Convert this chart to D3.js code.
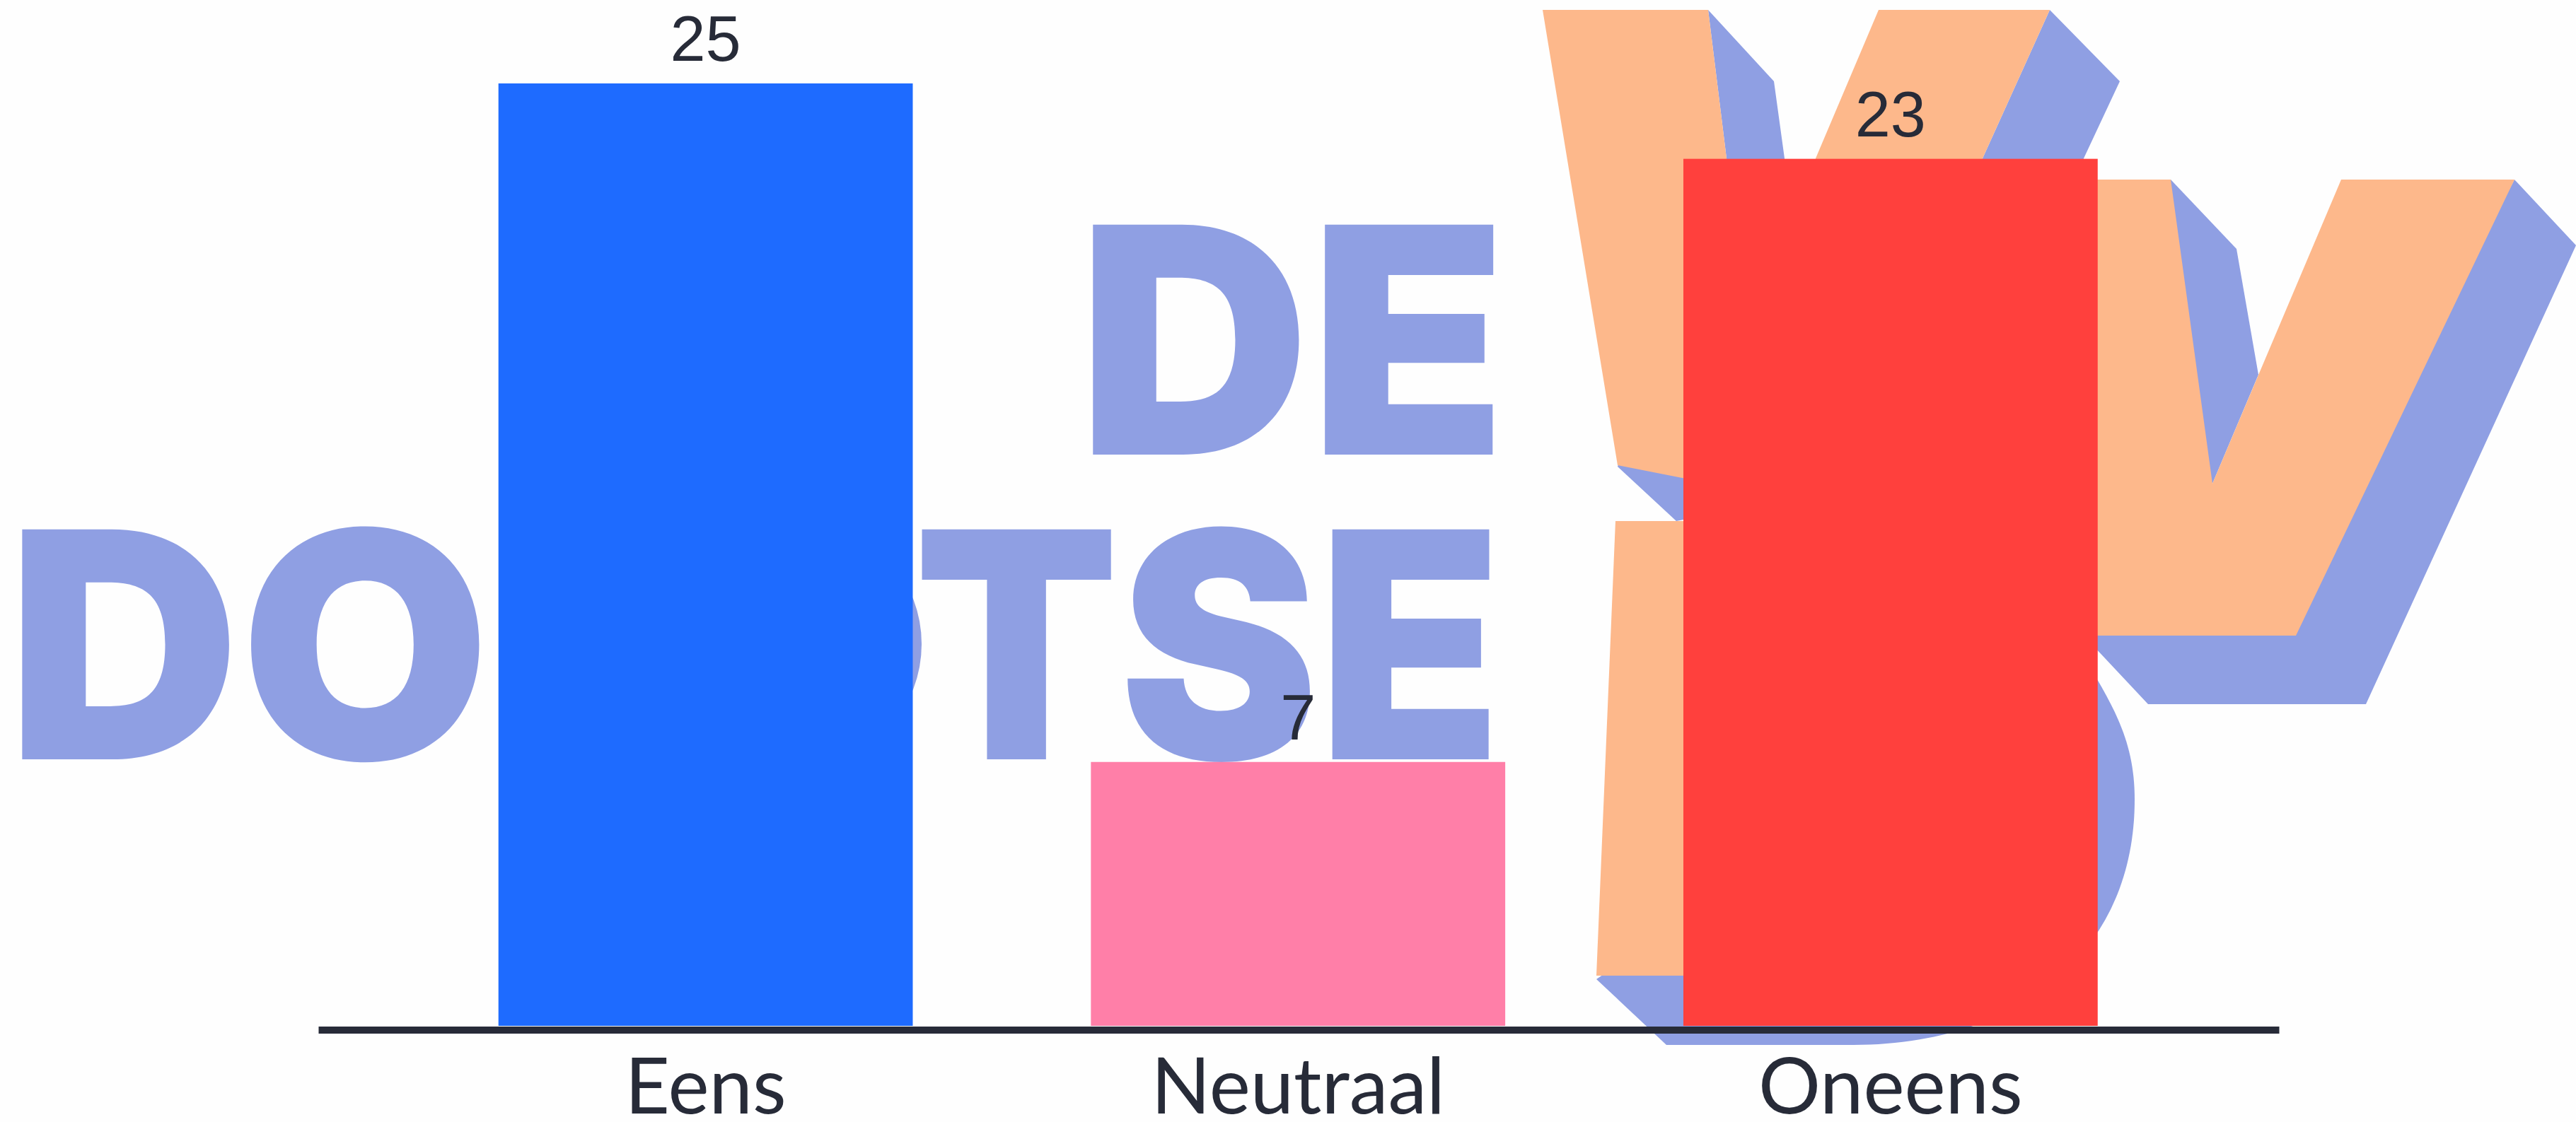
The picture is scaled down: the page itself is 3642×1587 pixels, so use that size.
<!DOCTYPE html>
<html>
<head>
<meta charset="utf-8">
<script src="https://cdn.jsdelivr.net/npm/d3@7"></script>
<style>
  html, body { margin: 0; padding: 0; background: #fefefe; }
  svg { display: block; }
</style>
</head>
<body>
<svg width="3642" height="1587"></svg>
<script>
const categories = ["Eens", "Neutraal", "Oneens"];
const values = [25, 7, 23];

const w = 3642;
const h = 1587;
const baseY = 1451;
const inkColor = "#272b38";
const logoBlue = "#8f9fe3";
const logoOrange = "#fdb88b";

const svg = d3.select("svg");

// Watermark logo behind the bars
const logo = svg.append("g").attr("id", "logo");

const blueShapes = [
  "M2415,14 L2508,115 L2523,224 L2560,700 L2370,737 L2287,660 L2441,224 Z",
  "M2898,14 L2997,115 L2946,224 L2800,700 L2700,650 L2803,224 Z",
  "M3069,254 L3162,352 L3193,530 L3128,684 L3000,500 Z",
  "M3555,254 L3642,347 L3345,996 L3037,996 L2900,850 L3246,850 Z",
  "M2257,1385 L2356,1478 L2620,1478 C2850,1478 3018,1350 3018,1131 C3018,1050 2990,1000 2940,920 Z"
];
const orangeShapes = [
  "M2181,14 L2415,14 L2441,224 L2500,700 L2287,658 Z",
  "M2656,14 L2898,14 L2803,224 L2700,650 L2500,650 L2567,224 Z",
  "M2900,254 L3069,254 L3128,684 L3310,254 L3555,254 L3246,899 L2900,899 Z",
  "M2284,737 L2500,737 L2500,1380 L2257,1380 Z"
];

logo.selectAll("path.blue").data(blueShapes).enter().append("path")
  .attr("class", "blue").attr("d", d => d).attr("fill", logoBlue);
logo.selectAll("path.orange").data(orangeShapes).enter().append("path")
  .attr("class", "orange").attr("d", d => d).attr("fill", logoOrange);

// sliver of a round letter that peeks out right of the blue bar
logo.append("ellipse")
  .attr("cx", 1150).attr("cy", 911).attr("rx", 153).attr("ry", 165)
  .attr("fill", logoBlue);

const logoWords = [
  { text: "DE", x: 1524, y: 643, len: 606 },
  { text: "DO", x: 10, y: 1074, len: 683 },
  { text: "TSE", x: 1292, y: 1074, len: 831 }
];
logo.selectAll("text").data(logoWords).enter().append("text")
  .attr("x", d => d.x)
  .attr("y", d => d.y)
  .attr("textLength", d => d.len)
  .attr("lengthAdjust", "spacingAndGlyphs")
  .attr("font-family", "Inter")
  .attr("font-weight", 900)
  .attr("font-size", 447)
  .attr("fill", logoBlue)
  .text(d => d.text);

// Scales
const x = d3.scaleBand()
  .domain(categories)
  .range([450, 3222])
  .paddingInner(0.3007)
  .paddingOuter(0.305)
  .align(0.4985);

const y = d3.scaleLinear()
  .domain([0, 25])
  .range([baseY, 118]);

const color = d3.scaleOrdinal()
  .domain(categories)
  .range(["#1e6bff", "#ff7fa8", "#ff403d"]);

const data = categories.map((c, i) => ({ category: c, value: values[i] }));

svg.selectAll("rect.bar")
  .data(data)
  .enter()
  .append("rect")
  .attr("class", "bar")
  .attr("x", d => x(d.category))
  .attr("y", d => y(d.value))
  .attr("width", x.bandwidth())
  .attr("height", d => y(0) - y(d.value))
  .attr("fill", d => color(d.category));

svg.selectAll("text.value")
  .data(data)
  .enter()
  .append("text")
  .attr("class", "value")
  .attr("x", d => x(d.category) + x.bandwidth() / 2)
  .attr("y", d => y(d.value) - 32)
  .attr("text-anchor", "middle")
  .attr("font-family", "Liberation Sans")
  .attr("font-size", 90)
  .attr("fill", inkColor)
  .text(d => d.value);

// Axis
const xAxis = d3.axisBottom(x).tickSize(0);

const axisG = svg.append("g")
  .attr("id", "x-axis")
  .attr("transform", `translate(0, ${baseY + 5.5})`)
  .call(xAxis);

axisG.select(".domain")
  .attr("stroke", inkColor)
  .attr("stroke-width", 10);

axisG.selectAll("text")
  .attr("y", 118)
  .attr("dy", 0)
  .attr("font-family", "Lato")
  .attr("font-size", 110)
  .attr("fill", inkColor);
</script>
</body>
</html>
